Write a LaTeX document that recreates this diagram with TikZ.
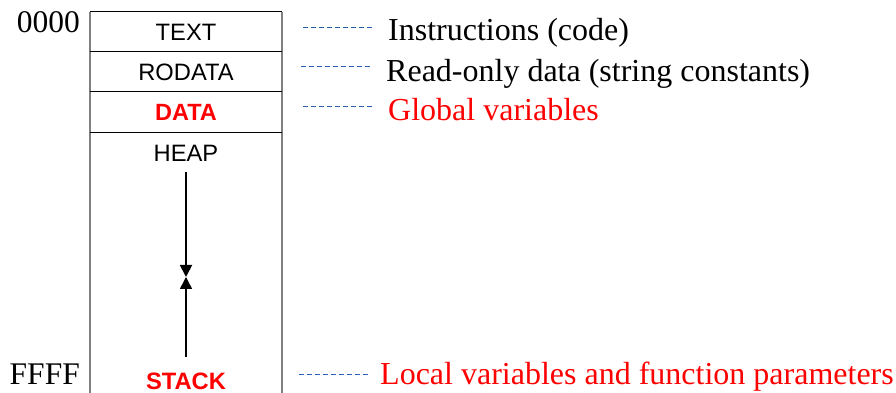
\documentclass[tikz,border=0pt]{standalone}
\usepackage{fontspec}
\setmainfont{Liberation Serif}
\setsansfont{Liberation Sans}
\usetikzlibrary{arrows.meta}
\definecolor{dashblue}{RGB}{40,95,175}
\definecolor{segred}{RGB}{255,0,0}

\begin{document}
\begin{tikzpicture}[x=1pt, y=1pt,
  seg/.style={minimum width=192pt, minimum height=40pt, inner sep=0pt, font=\sffamily\fontsize{23.7}{24}\selectfont},
  segbold/.style={seg, text=segred, font=\sffamily\bfseries\fontsize{23.5}{24}\selectfont},
  seglbl/.style={inner sep=0pt, font=\sffamily\fontsize{23.7}{24}\selectfont},
  addr/.style={anchor=base east, inner sep=0pt, font=\fontsize{31.5}{32}\selectfont},
  note/.style={anchor=base west, inner sep=0pt, font=\fontsize{32}{32}\selectfont},
  leader/.style={dashblue, dash pattern=on 5pt off 3pt, line width=0.8pt},
  side/.style={gray, line width=1.5pt},
  growarrow/.style={-{Triangle[length=12pt,width=12pt]}, line width=1.8pt}]

\useasboundingbox (0,0) rectangle (896,393);

% Segmente
\foreach \n/\y/\t/\s in {text/361/TEXT/seg, rodata/321/RODATA/seg, data/281/DATA/segbold} {
  \node[\s] (\n) at (186,\y) {\t};
}
\coordinate (floor) at (186,0);
\draw[side] (text.north west) -- (text.north west |- floor); % linke Kante
\draw[side] (text.north east) -- (text.north east |- floor); % rechte Kante
\foreach \n in {text, rodata, data} {
  \draw[line width=1.2pt] (\n.north west) -- (\n.north east);
}
\draw[line width=1.2pt] (data.south west) -- (data.south east);

% Heap und Stack
\node[seglbl] (heap) at (186,240) {HEAP};
\node[seglbl, text=segred, font=\sffamily\bfseries\fontsize{23.7}{24}\selectfont] (stack) at (186,11.5) {STACK};
\coordinate (meet) at (186,116);
\draw[growarrow, shorten <=11pt] (heap.south) -- (meet);
\draw[growarrow, line width=1.5pt, shorten <=16pt] (stack.north) -- (meet);

% Adressen
\node[addr] (lo) at (80,360) {0000};
\node[addr] (hi) at (80,8) {FFFF};

% Beschriftungen rechts
\node[note] (instr) at (388,352) {Instructions (code)};
\node[note] (rodesc) at (386,311) {Read-only data (string constants)};
\node[note, text=segred] (globals) at (388,272) {Global variables};
\node[note, text=segred] (locals) at (380,8) {Local variables and function parameters};

% gestrichelte Linien
\foreach \x/\y/\n/\g in {303/366/instr/16, 301/327/rodesc/16, 303/287/globals/16, 299/19/locals/12} {
  \coordinate (l-\n) at (\x,\y);
  \draw[leader, shorten >=\g pt] (l-\n) -- (l-\n -| \n.west);
}

\end{tikzpicture}
\end{document}
